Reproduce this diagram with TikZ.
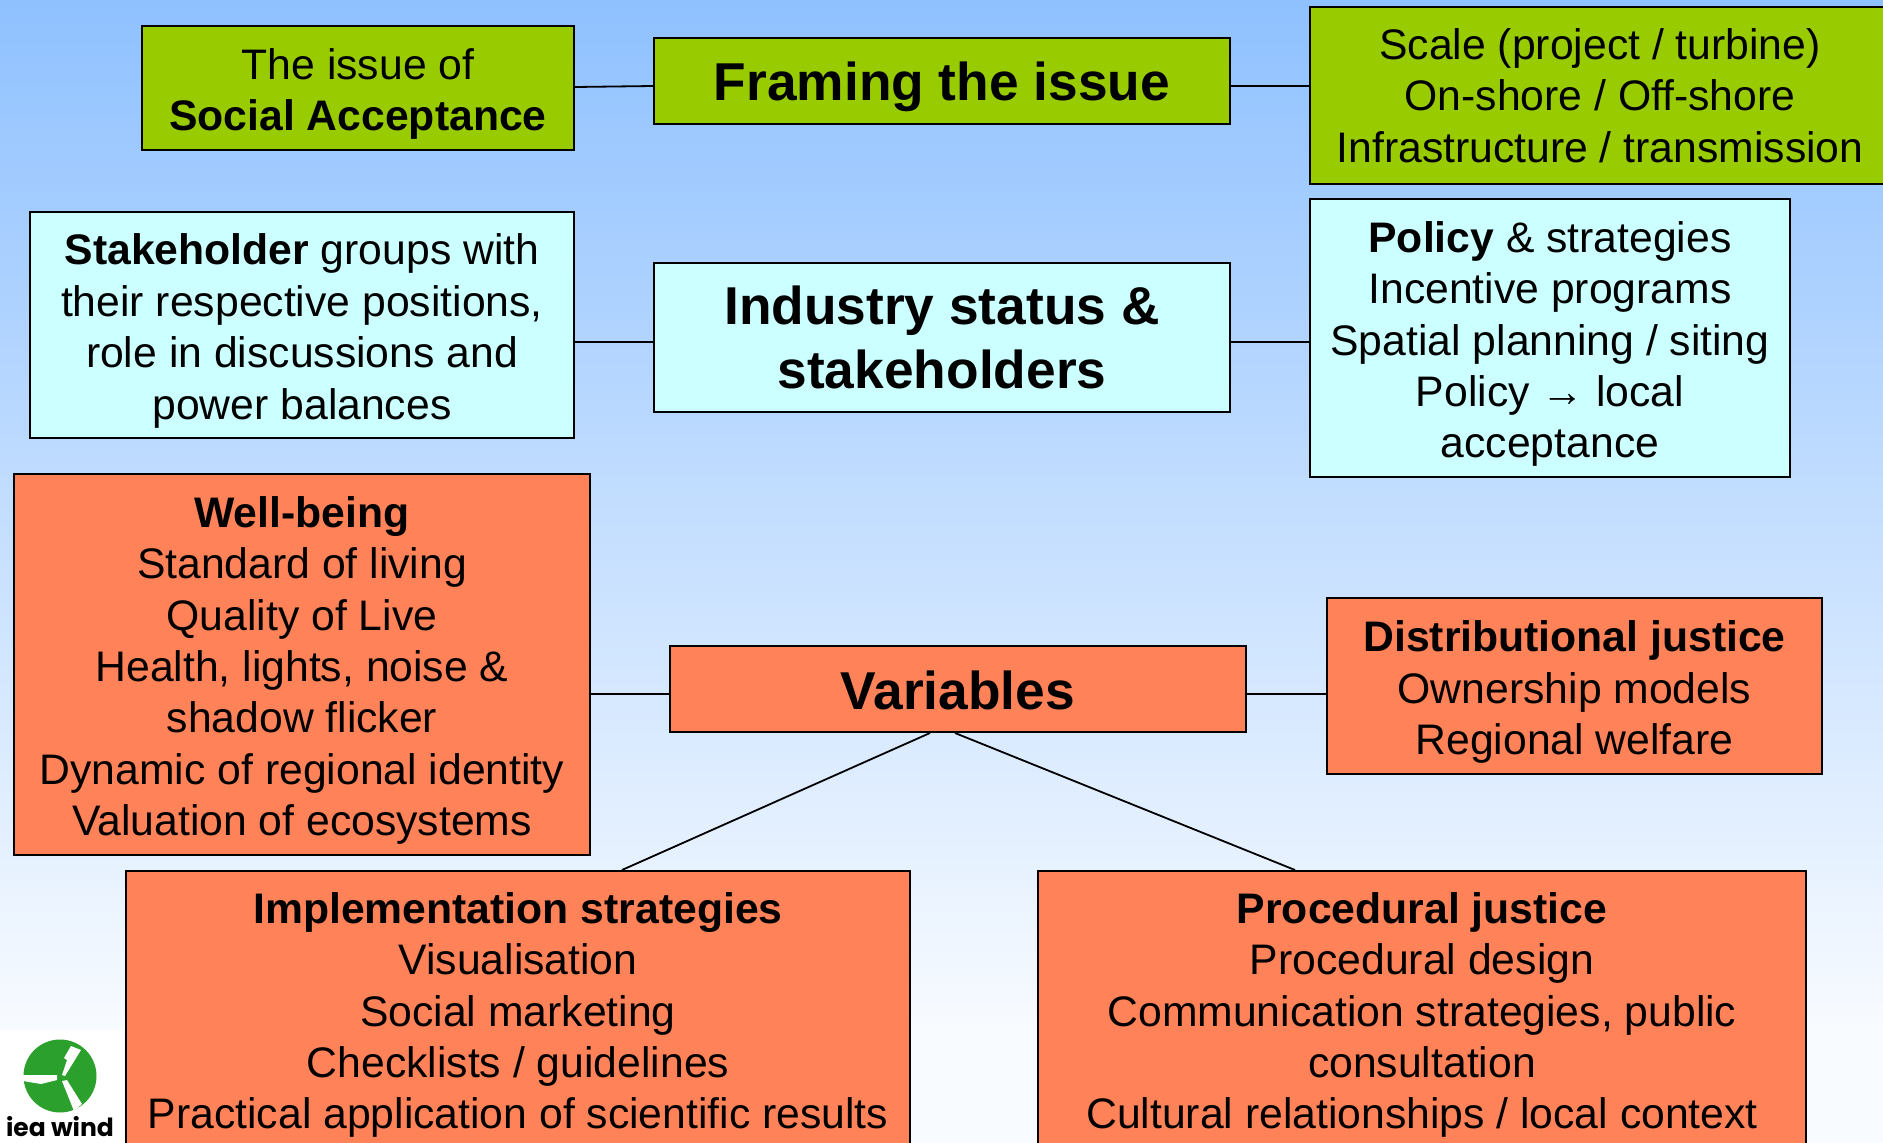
\documentclass[tikz,border=0pt]{standalone}
\usepackage{fontspec}
\setmainfont{Liberation Sans}
\newfontfamily\logofont{Poppins}
\usetikzlibrary{calc}
\definecolor{bgtop}{HTML}{8FC1FF}
\definecolor{bgbot}{HTML}{F8FBFF}
\definecolor{grn}{HTML}{99CC00}
\definecolor{cyn}{HTML}{CCFFFF}
\definecolor{org}{HTML}{FF8259}
\definecolor{logogrn}{HTML}{2CA02C}
\newcommand{\lowerA}{\rule{0pt}{43pt}}
\newcommand{\lowerB}{\rule{0pt}{50pt}}
\tikzset{
  x=1pt,y=-1pt,
  bx/.style={draw=black,line width=2pt,anchor=north west,align=center,inner sep=0pt,
    font=\fontsize{42.7}{51.4}\selectfont},
  ttl/.style={bx,font=\fontsize{53.3}{64}\selectfont\bfseries},
  lnk/.style={draw=black,line width=1.8pt},
}
\begin{document}
\begin{tikzpicture}
\useasboundingbox (0,0) rectangle (1883,1143);
\clip (0,0) rectangle (1883,1143);
\fill[bgbot] (0,1029) rectangle (1883,1143);
\fill[top color=bgtop,bottom color=bgbot] (0,0) rectangle (1883,1030);
\fill[white] (0,1030) rectangle (124,1143);

\node[bx,fill=grn,minimum width=432pt,minimum height=124pt] (issue) at (141,25)
  {\lowerA The issue of\\\textbf{Social Acceptance}};
\node[ttl,fill=grn,minimum width=576pt,minimum height=86pt] (framing) at (653,37)
  {\lowerB Framing the issue};
\node[bx,fill=grn,minimum width=580pt,minimum height=177pt] (scale) at (1309,6)
  {Scale (project / turbine)\\On-shore / Off-shore\\Infrastructure / transmission};

\node[bx,fill=cyn,minimum width=544pt,minimum height=226pt] (stake) at (29,211)
  {\lowerA\textbf{Stakeholder} groups with\\their respective positions,\\role in discussions and\\power balances};
\node[ttl,fill=cyn,minimum width=576pt,minimum height=149pt] (industry) at (653,262)
  {Industry status \&\\stakeholders};
\node[bx,fill=cyn,minimum width=480pt,minimum height=278pt] (policy) at (1309,198)
  {\lowerA\textbf{Policy} \& strategies\\Incentive programs\\Spatial planning / siting\\Policy → local\\acceptance};

\node[bx,fill=org,minimum width=576pt,minimum height=381pt] (well) at (13,473)
  {\lowerA\textbf{Well-being}\\Standard of living\\Quality of Live\\Health, lights, noise \&\\shadow flicker\\Dynamic of regional identity\\Valuation of ecosystems};
\node[ttl,fill=org,minimum width=576pt,minimum height=86pt] (vars) at (669,645)
  {\rule{0pt}{42pt}Variables};
\node[bx,fill=org,minimum width=495pt,minimum height=176pt] (dist) at (1326,597)
  {\lowerA\textbf{Distributional justice}\\Ownership models\\Regional welfare};
\node[bx,fill=org,minimum width=784pt,minimum height=288pt] (impl) at (125,870)
  {\textbf{Implementation strategies}\\Visualisation\\Social marketing\\Checklists / guidelines\\Practical application of scientific results};
\node[bx,fill=org,minimum width=768pt,minimum height=288pt] (proc) at (1037,870)
  {\textbf{Procedural justice}\\Procedural design\\Communication strategies, public\\consultation\\Cultural relationships / local context};

\draw[lnk] ([yshift=1pt]issue.east) -- (framing.west |- {0,86});
\draw[lnk] (framing.east |- {0,86}) -- (scale.west |- {0,86});
\draw[lnk] (stake.east |- {0,342}) -- (industry.west |- {0,342});
\draw[lnk] (industry.east |- {0,342}) -- (policy.west |- {0,342});
\draw[lnk] (well.east |- {0,694}) -- (vars.west |- {0,694});
\draw[lnk] (vars.east |- {0,694}) -- (dist.west |- {0,694});
\draw[lnk] (vars.south -| {930,0}) -- (impl.north -| {622,0});
\draw[lnk] (vars.south -| {955,0}) -- (proc.north -| {1295,0});

\fill[logogrn] (60,1076) circle (36.5);
\fill[white] (62,1075) -- (67,1060) -- (64,1058) -- (71,1046) -- (81,1050) -- (65,1076) -- cycle;
\fill[white] (57,1075) -- (23,1075) -- (23,1081) -- (41,1084) -- (57,1080) -- cycle;
\fill[white] (62,1081) -- (67,1080) -- (82,1104) -- (74,1111) -- cycle;
\node[inner sep=0pt,font=\logofont\fontsize{25}{25}\selectfont\bfseries] (logotext) at (60,1127) {iea wind};
\end{tikzpicture}
\end{document}
